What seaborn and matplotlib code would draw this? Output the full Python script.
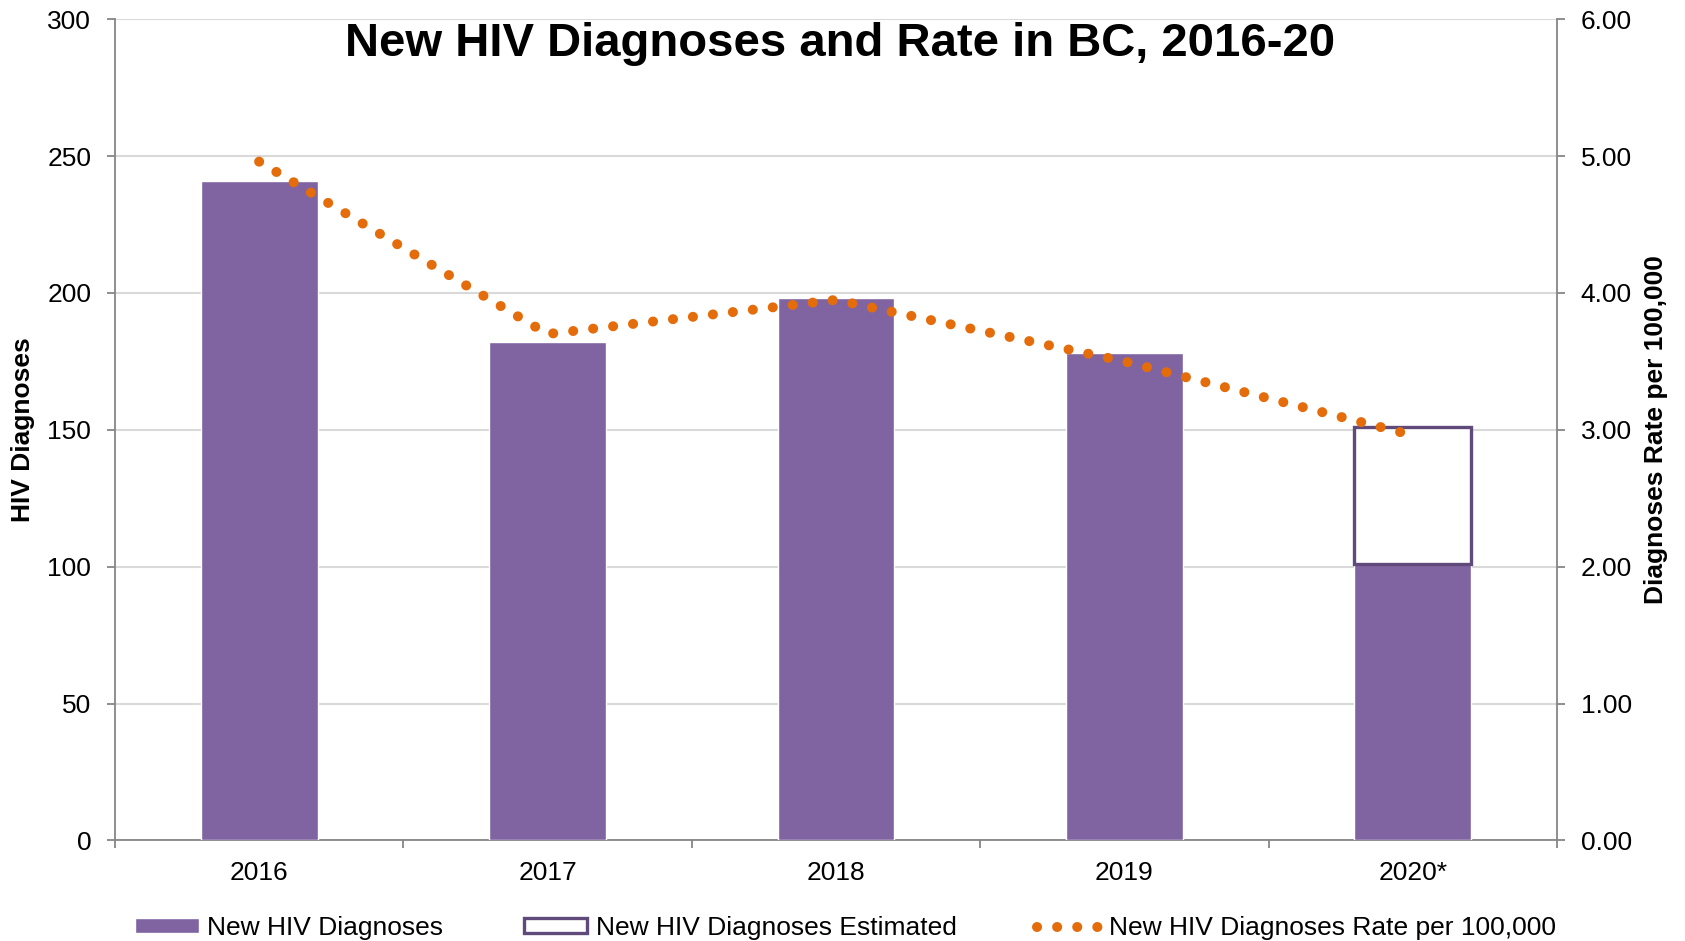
import numpy as np
import pandas as pd
import matplotlib
matplotlib.use("Agg")
import matplotlib.pyplot as plt
import seaborn as sns
from matplotlib.patches import Patch
from matplotlib.lines import Line2D

# ---- data ----
years = ["2016", "2017", "2018", "2019", "2020*"]
diagnoses = [241, 182, 198, 178, 101]
estimated_total = [np.nan, np.nan, np.nan, np.nan, 151]
rate = [4.96, 3.70, 3.95, 3.50, 2.96]
left_ticks = [0, 50, 100, 150, 200, 250, 300]
right_ticks = [0, 1, 2, 3, 4, 5, 6]

PURPLE = "#8064A2"
DARK_PURPLE = "#604A7B"
ORANGE = "#E46C0A"
GRID = "#D9D9D9"
SPINE = "#868686"

sns.set_theme(style="white")
plt.rcParams["font.family"] = ["Liberation Sans", "DejaVu Sans"]
plt.rcParams["text.color"] = "black"
plt.rcParams["axes.labelcolor"] = "black"
plt.rcParams["xtick.color"] = "black"
plt.rcParams["ytick.color"] = "black"

fig = plt.figure(figsize=(16.85, 9.41), dpi=100)
ax = fig.add_axes([0.0682, 0.1069, 0.924 - 0.0682, 0.9795 - 0.1069])

df = pd.DataFrame({"year": years, "diagnoses": diagnoses})
sns.barplot(data=df, x="year", y="diagnoses", color=PURPLE, saturation=1,
            width=0.405, edgecolor="white", linewidth=1.0, ax=ax, zorder=3)

# estimated part of 2020 (outline box)
pos = np.arange(len(years))
est_extra = [t - d if not np.isnan(t) else 0 for t, d in zip(estimated_total, diagnoses)]
mask = [not np.isnan(t) for t in estimated_total]
ax.bar(pos[mask], np.array(est_extra)[mask], bottom=np.array(diagnoses)[mask],
       width=0.405, facecolor="white", edgecolor=DARK_PURPLE, linewidth=2.4, zorder=4)

ax.set_xlim(-0.5, len(years) - 0.5)
ax.set_ylim(0, 300)
ax.set_yticks(left_ticks)
ax.set_yticklabels([str(t) for t in left_ticks])
ax.set_xlabel("")
ax.set_ylabel("HIV Diagnoses", fontsize=19, fontweight="bold", va="center")
ax.yaxis.set_label_coords(-0.0634, 0.5)

ax.yaxis.grid(True, color=GRID, linewidth=1.5, zorder=0)
ax.xaxis.grid(False)
ax.set_axisbelow(True)

for s in ["left", "bottom"]:
    ax.spines[s].set_color(SPINE)
    ax.spines[s].set_linewidth(1.3)
ax.spines["top"].set_visible(False)
ax.spines["right"].set_visible(False)

ax.tick_params(axis="y", which="major", left=True, length=6, width=1.3,
               color=SPINE, labelsize=19, pad=11, labelcolor="black")
ax.tick_params(axis="x", which="major", length=0, labelsize=19, pad=15,
               labelcolor="black")
ax.set_xticks(np.arange(-0.5, len(years), 1.0), minor=True)
ax.tick_params(axis="x", which="minor", bottom=True, length=6, width=1.3, color=SPINE)

# rate line on secondary axis
ax2 = ax.twinx()
sns.lineplot(x=pos, y=rate, ax=ax2, color=ORANGE, linewidth=7.2,
             linestyle=(0, (0.01, 2.0)), dash_capstyle="round", zorder=5)
ax2.set_ylim(0, 6)
ax2.set_xlim(-0.5, len(years) - 0.5)
ax2.set_yticks(right_ticks)
ax2.set_yticklabels([f"{t:.2f}" for t in right_ticks])
ax2.set_ylabel("Diagnoses Rate per 100,000", fontsize=19, fontweight="bold",
               rotation=90, va="center")
ax2.yaxis.set_label_coords(1.0687, 0.5)
ax2.grid(False)
for s in ["left", "top", "bottom"]:
    ax2.spines[s].set_visible(False)
ax2.spines["right"].set_color(SPINE)
ax2.spines["right"].set_linewidth(1.3)
ax2.tick_params(axis="y", right=True, length=6, width=1.3, color=SPINE,
                labelsize=19, pad=11, labelcolor="black")

# title
fig.text(0.4986, 0.953, "New HIV Diagnoses and Rate in BC, 2016-20",
         ha="center", va="center", fontsize=34, fontweight="bold", color="black")

# legend
handles = [
    Patch(facecolor=PURPLE, edgecolor="white", linewidth=1),
    Patch(facecolor="white", edgecolor=DARK_PURPLE, linewidth=2.4),
    Line2D([0], [0], color=ORANGE, linewidth=7.2, linestyle=(0, (0.01, 2.0)),
           dash_capstyle="round"),
]
labels = ["New HIV Diagnoses", "New HIV Diagnoses Estimated",
          "New HIV Diagnoses Rate per 100,000"]
fig.legend(handles, labels, loc="center", bbox_to_anchor=(0.502, 0.014),
           ncol=3, frameon=False, fontsize=19, handlelength=2.4,
           handleheight=0.45, handletextpad=0.33, columnspacing=3.05,
           borderpad=0, borderaxespad=0)

fig.savefig("out.png", dpi=100)
